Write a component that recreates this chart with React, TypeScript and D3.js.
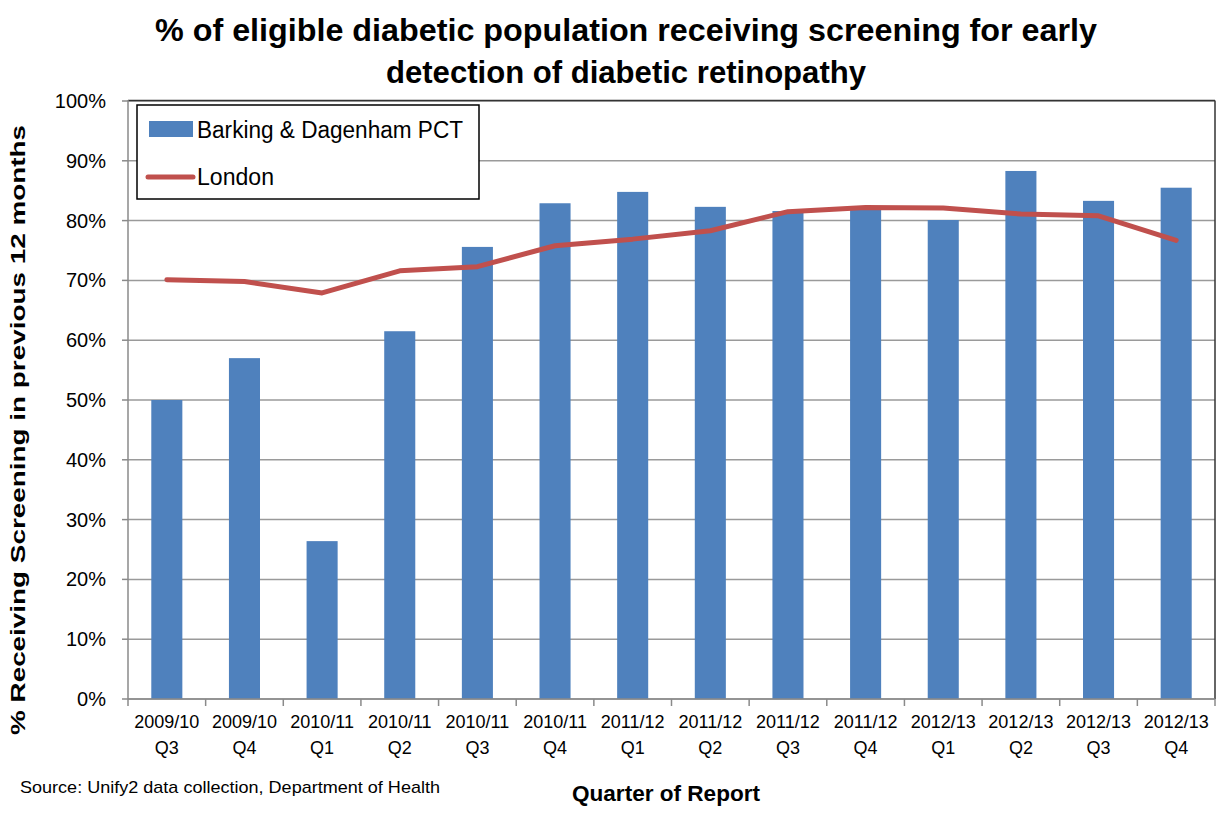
import React from "react";
import * as d3 from "d3";

const categories = [
  ["2009/10", "Q3"], ["2009/10", "Q4"], ["2010/11", "Q1"], ["2010/11", "Q2"],
  ["2010/11", "Q3"], ["2010/11", "Q4"], ["2011/12", "Q1"], ["2011/12", "Q2"],
  ["2011/12", "Q3"], ["2011/12", "Q4"], ["2012/13", "Q1"], ["2012/13", "Q2"],
  ["2012/13", "Q3"], ["2012/13", "Q4"],
];
const barkingValues = [50.0, 57.0, 26.4, 61.5, 75.6, 82.9, 84.8, 82.3, 81.6, 82.1, 80.1, 88.3, 83.3, 85.5];
const londonValues = [70.1, 69.8, 67.9, 71.6, 72.3, 75.8, 76.9, 78.3, 81.5, 82.2, 82.1, 81.1, 80.8, 76.7];
const yTicks = [0, 10, 20, 30, 40, 50, 60, 70, 80, 90, 100];

const W = 1231, H = 834;
const left = 128, right = 1215, top = 101, bottom = 699;
const FONT = "'Liberation Sans Narrow', 'Arial Narrow', 'Liberation Sans', Arial, sans-serif";
const BLUE = "#4f81bd";
const RED = "#c0504d";

export default function App() {
  const keys = categories.map((_, i) => String(i));
  const x = d3.scaleBand().domain(keys).range([left, right]).paddingInner(0.6).paddingOuter(0.3);
  const xc = d3.scaleBand().domain(keys).range([left, right]);
  const y = d3.scaleLinear().domain([0, 100]).range([bottom, top]);
  const line = d3.line<number>()
    .x((_, i) => (xc(String(i)) as number) + xc.bandwidth() / 2)
    .y((d) => y(d));
  const boundaries = d3.range(categories.length + 1).map((i) => left + i * xc.bandwidth());

  return (
    <svg width={W} height={H} style={{ position: "absolute", left: 0, top: 0, background: "#fff" }} fontFamily={FONT}>
      <rect x={0} y={0} width={W} height={H} fill="#fff" />
      {/* Title */}
      <text x={626} y={41} textAnchor="middle" fontSize={31} fontWeight="bold" fill="#000" textLength={942} lengthAdjust="spacingAndGlyphs">
        % of eligible diabetic population receiving screening for early
      </text>
      <text x={626} y={83} textAnchor="middle" fontSize={31} fontWeight="bold" fill="#000" textLength={480} lengthAdjust="spacingAndGlyphs">
        detection of diabetic retinopathy
      </text>

      {/* Gridlines */}
      {yTicks.map((t) => (
        <line key={"g" + t} x1={left} x2={right} y1={y(t)} y2={y(t)} stroke="#9a9a9a" strokeWidth={1.5} />
      ))}

      {/* Bars */}
      {barkingValues.map((v, i) => (
        <rect key={"b" + i} x={x(String(i))} y={y(v)} width={x.bandwidth()} height={bottom - y(v)} fill={BLUE} />
      ))}

      {/* London line */}
      <path d={line(londonValues) || ""} fill="none" stroke={RED} strokeWidth={5} strokeLinejoin="round" strokeLinecap="round" />

      {/* Plot border top/right */}
      <line x1={left} x2={right} y1={top - 0.5} y2={top - 0.5} stroke="#333" strokeWidth={1.5} />
      <line x1={right} x2={right} y1={top - 0.5} y2={bottom} stroke="#333" strokeWidth={1.5} />

      {/* Axes */}
      <line x1={left} x2={left} y1={top - 1} y2={bottom} stroke="#8a8a8a" strokeWidth={1.5} />
      <line x1={left} x2={right} y1={bottom} y2={bottom} stroke="#8a8a8a" strokeWidth={1.5} />
      {yTicks.map((t) => (
        <g key={"yt" + t}>
          <line x1={left - 6} x2={left} y1={y(t)} y2={y(t)} stroke="#8a8a8a" strokeWidth={1.5} />
          <text x={106} y={y(t) + 7} textAnchor="end" fontSize={20} fill="#000">{t + "%"}</text>
        </g>
      ))}
      {boundaries.map((bx, i) => (
        <line key={"xt" + i} x1={bx} x2={bx} y1={bottom} y2={bottom + 7} stroke="#8a8a8a" strokeWidth={1.5} />
      ))}
      {categories.map((c, i) => {
        const cx = (xc(String(i)) as number) + xc.bandwidth() / 2;
        return (
          <g key={"xl" + i}>
            <text x={cx} y={728} textAnchor="middle" fontSize={18} fill="#000">{c[0]}</text>
            <text x={cx} y={754} textAnchor="middle" fontSize={18} fill="#000">{c[1]}</text>
          </g>
        );
      })}

      {/* Y axis title */}
      <text transform="translate(25,430) rotate(-90)" textAnchor="middle" fontSize={20} fontWeight="bold" fill="#000" textLength={610} lengthAdjust="spacingAndGlyphs">
        % Receiving  Screening in previous  12 months
      </text>

      {/* Legend */}
      <rect x={137} y={105} width={342} height={94} fill="#fff" stroke="#000" strokeWidth={1.5} />
      <rect x={149} y={121} width={44} height={16} fill={BLUE} />
      <text x={197} y={138} fontSize={23} fill="#000" textLength={266} lengthAdjust="spacingAndGlyphs">Barking &amp; Dagenham PCT</text>
      <line x1={148} x2={193} y1={177} y2={177} stroke={RED} strokeWidth={5} strokeLinecap="round" />
      <text x={197} y={185} fontSize={23} fill="#000" textLength={77} lengthAdjust="spacingAndGlyphs">London</text>

      {/* Footer */}
      <text x={20} y={793} fontSize={17} fill="#000" textLength={420} lengthAdjust="spacingAndGlyphs">Source: Unify2 data collection, Department of Health</text>
      <text x={666} y={801} textAnchor="middle" fontSize={22} fontWeight="bold" fill="#000" textLength={188} lengthAdjust="spacingAndGlyphs">Quarter of Report</text>
    </svg>
  );
}
